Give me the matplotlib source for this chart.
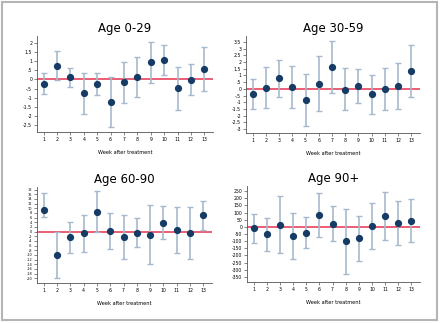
import numpy as np
import matplotlib
matplotlib.use("Agg")
import matplotlib.pyplot as plt
from matplotlib.patches import Rectangle
from matplotlib.ticker import FuncFormatter

weeks = np.arange(1, 14)

#point estimates and CI
est_0_29 = [-0.24, 0.75, 0.11, -0.76, -0.27, -1.24, -0.15, 0.11, 0.95, 1.07, -0.47, -0.02, 0.58]
lo_0_29 = [-0.82, -0.04, -0.44, -1.89, -0.87, -2.64, -1.29, -0.98, -0.20, 0.24, -1.67, -0.87, -0.62]
hi_0_29 = [0.36, 1.55, 0.65, 0.36, 0.33, 0.16, 0.98, 1.22, 2.09, 1.93, 0.71, 0.84, 1.78]

est_30_59 = [-0.40, 0.10, 0.78, 0.15, -0.81, 0.38, 1.64, -0.05, 0.23, -0.40, -0.03, 0.23, 1.31]
lo_30_59 = [-1.49, -1.44, -0.60, -1.41, -2.75, -1.66, -0.30, -1.61, -1.08, -1.86, -1.59, -1.49, -0.63]
hi_30_59 = [0.70, 1.66, 2.17, 1.71, 1.13, 2.44, 3.58, 1.59, 1.51, 1.06, 1.56, 1.91, 3.25]

est_60_90 = [9.3, -9.9, -2.4, -0.7, 8.6, 0.3, -2.4, -0.4, -1.3, 3.9, 0.7, -0.6, 7.0]
lo_60_90 = [6.1, -19.7, -9.0, -8.6, -0.3, -7.6, -11.9, -6.4, -14.0, -3.3, -9.1, -11.9, 0.7]
hi_60_90 = [16.4, 0.0, 4.3, 7.1, 17.6, 7.9, 7.1, 5.7, 11.4, 11.0, 10.4, 10.7, 13.3]

est_90 = [-9, -53, 16, -65, -42, 83, 23, -102, -81, 5, 74, 28, 42]
lo_90 = [-113, -171, -183, -225, -150, -72, -97, -329, -236, -155, -93, -125, -106]
hi_90 = [93, 65, 218, 95, 67, 238, 144, 125, 74, 164, 241, 178, 194]

panels = [
    ("Age 0-29", est_0_29, lo_0_29, hi_0_29, np.arange(-2.5, 2.01, 0.5), (-2.9, 2.4), 3.3),
    ("Age 30-59", est_30_59, lo_30_59, hi_30_59, np.arange(-3, 3.51, 0.5), (-3.3, 3.95), 3.3),
    ("Age 60-90", est_60_90, lo_60_90, hi_60_90, np.arange(-20, 18.1, 2), (-22, 19.1), 2.5),
    ("Age 90+", est_90, lo_90, hi_90, np.arange(-350, 251, 50), (-385, 285), 3.3),
]

# axes boxes in pixels: left, top, right, bottom
boxes = [(37, 36, 213, 132), (246, 36, 420, 133), (37, 187, 212, 283), (247, 186, 420, 282)]

def stata_fmt(v, pos):
    if abs(v) < 1e-9:
        return "0"
    s = ("%g" % v)
    s = s.replace("0.", ".")
    return s

W, H = 440, 323
fig = plt.figure(figsize=(W / 100, H / 100), dpi=100)
fig.patch.set_facecolor("white")
fig.add_artist(Rectangle((0.004, 0.01), 0.99, 0.985, transform=fig.transFigure,
                         fill=False, edgecolor="#b5b5b5", lw=1.5))

for (title, est, lo, hi, yt, ylim, ysize), (l, t, r, b) in zip(panels, boxes):
    ax = fig.add_axes([l / W, 1 - b / H, (r - l) / W, (b - t) / H])
    est = np.array(est)
    yerr = [est - np.array(lo), np.array(hi) - est]
    ax.axhline(0, color="#e8506a", lw=1.3, zorder=1)
    ax.errorbar(weeks, est, yerr=yerr, fmt="none", ecolor="#a7bacd", elinewidth=1.2,
                capsize=2, capthick=1, zorder=2)
    ax.plot(weeks, est, "o", color="#163c66", ms=4.2, zorder=3)
    ax.set_xlim(0.5, 13.65)
    ax.set_ylim(*ylim)
    ax.set_xticks(weeks)
    ax.set_yticks(yt)
    ax.yaxis.set_major_formatter(FuncFormatter(stata_fmt))
    ax.tick_params(axis="x", labelsize=3.3, length=2, width=0.5, color="#555555", pad=1.5)
    ax.tick_params(axis="y", labelsize=ysize, length=2, width=0.5, color="#555555", pad=1.5)
    for side in ["top", "right"]:
        ax.spines[side].set_visible(False)
    for side in ["left", "bottom"]:
        ax.spines[side].set_color("#555555")
        ax.spines[side].set_linewidth(0.6)
    ax.set_title(title, fontsize=8.5, pad=3)
    ax.set_xlabel("Week after treatment", fontsize=3.6, labelpad=6)

plt.savefig("out.png", dpi=100)
